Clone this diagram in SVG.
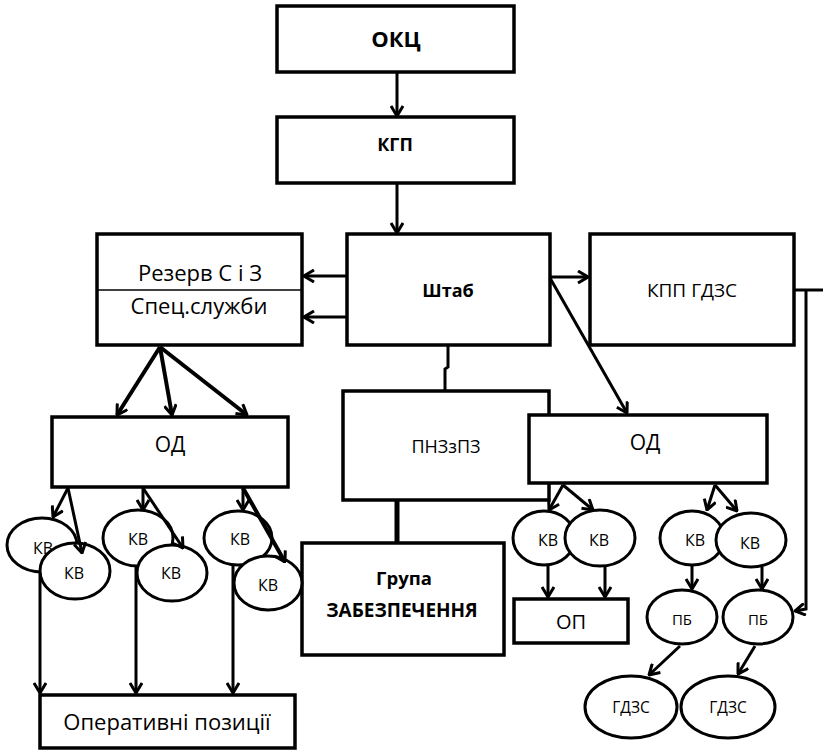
<svg xmlns="http://www.w3.org/2000/svg" width="823" height="751" viewBox="0 0 823 751">
<defs>
<style>
.box{fill:#fff;stroke:#000;stroke-width:3.5}
.ell{fill:#fff;stroke:#000;stroke-width:3}
.t{font-family:"Open Sans","Liberation Sans",sans-serif;fill:#000;text-anchor:middle;dominant-baseline:central}
.b{font-weight:bold}
.c{fill:none;stroke:#000;stroke-width:3}
.ck{fill:none;stroke:#000;stroke-width:4}
</style>
<marker id="ah" markerUnits="userSpaceOnUse" viewBox="0 0 12 14" refX="11" refY="7" markerWidth="12" markerHeight="14" orient="auto">
<path d="M1,1 L11,7 L1,13" fill="none" stroke="#000" stroke-width="3"/>
</marker>
</defs>
<rect width="823" height="751" fill="#fff"/>
<g id="okc"><rect class="box" x="277" y="6" width="237" height="66"/><text class="t b" x="396" y="38" font-size="22">ОКЦ</text></g>
<g id="kgp"><rect class="box" x="277" y="117" width="237" height="66"/><text class="t b" x="395" y="144" font-size="18">КГП</text></g>
<g id="rezerv"><rect class="box" x="97" y="234" width="205" height="111"/><line x1="97" y1="290" x2="302" y2="290" stroke="#000" stroke-width="1.5"/><text class="t" x="200" y="272" font-size="22">Резерв С і З</text><text class="t" x="199" y="305" font-size="22">Спец.служби</text></g>
<g id="shtab"><rect class="box" x="347" y="234" width="203" height="111"/><text class="t b" x="448" y="290" font-size="18">Штаб</text></g>
<g id="kpp"><rect class="box" x="590" y="234" width="204" height="111"/><text class="t" x="692" y="290" font-size="19">КПП ГДЗС</text></g>
<g id="pnz"><rect class="box" x="343" y="391" width="206" height="109"/><text class="t" x="446" y="446" font-size="18">ПНЗзПЗ</text></g>
<g id="od-right"><rect class="box" x="529" y="415" width="238" height="68"/><text class="t" x="645" y="442" font-size="21">ОД</text></g>
<g id="od-left"><rect class="box" x="52" y="417" width="236" height="70"/><text class="t" x="170" y="444" font-size="21">ОД</text></g>
<g id="grupa"><rect class="box" x="302" y="543" width="202" height="112"/><text class="t b" x="404" y="577" font-size="18.5">Група</text><text class="t b" x="402" y="610" font-size="19">ЗАБЕЗПЕЧЕННЯ</text></g>
<g id="kv1"><ellipse class="ell" cx="42" cy="545" rx="35" ry="27"/><text class="t" x="43" y="548" font-size="16">КВ</text></g>
<g id="kv2"><ellipse class="ell" cx="75" cy="571" rx="35" ry="28"/><text class="t" x="74" y="573" font-size="16">КВ</text></g>
<g id="kv3"><ellipse class="ell" cx="138" cy="538" rx="35" ry="28"/><text class="t" x="138" y="539" font-size="16">КВ</text></g>
<g id="kv4"><ellipse class="ell" cx="172" cy="573" rx="35" ry="28"/><text class="t" x="171" y="573" font-size="16">КВ</text></g>
<g id="kv5"><ellipse class="ell" cx="238" cy="538" rx="34" ry="27"/><text class="t" x="240" y="539" font-size="16">КВ</text></g>
<g id="kv6"><ellipse class="ell" cx="268" cy="583" rx="34" ry="27"/><text class="t" x="268" y="585" font-size="16">КВ</text></g>
<g id="kv7"><ellipse class="ell" cx="544" cy="538" rx="31" ry="27"/><text class="t" x="548" y="540" font-size="16">КВ</text></g>
<g id="kv8"><ellipse class="ell" cx="600" cy="538" rx="35" ry="28"/><text class="t" x="599" y="540" font-size="16">КВ</text></g>
<g id="kv9"><ellipse class="ell" cx="692" cy="538" rx="32" ry="27"/><text class="t" x="695" y="540" font-size="16">КВ</text></g>
<g id="kv10"><ellipse class="ell" cx="751" cy="540" rx="35" ry="27"/><text class="t" x="750" y="543" font-size="16">КВ</text></g>
<g id="op"><rect class="box" x="514" y="599" width="114" height="44"/><text class="t" x="571" y="621" font-size="20">ОП</text></g>
<g id="pb1"><ellipse class="ell" cx="682" cy="617" rx="35" ry="27"/><text class="t" x="682" y="619" font-size="15">ПБ</text></g>
<g id="pb2"><ellipse class="ell" cx="758" cy="617" rx="35" ry="27"/><text class="t" x="758" y="619" font-size="15">ПБ</text></g>
<g id="gdzs1"><ellipse class="ell" cx="631" cy="707" rx="46" ry="31"/><text class="t" x="631" y="707" font-size="15.5">ГДЗС</text></g>
<g id="gdzs2"><ellipse class="ell" cx="728" cy="707" rx="47" ry="31"/><text class="t" x="728" y="707" font-size="15.5">ГДЗС</text></g>
<g id="oper"><rect class="box" x="40" y="695" width="255" height="53"/><text class="t" x="167" y="721" font-size="22">Оперативні позиції</text></g>
<g id="connectors">
<line class="c" x1="397" y1="72" x2="397" y2="116" marker-end="url(#ah)"/>
<line class="c" x1="397" y1="183" x2="397" y2="233" marker-end="url(#ah)"/>
<line class="c" x1="347" y1="276" x2="304" y2="276" marker-end="url(#ah)"/>
<line class="c" x1="347" y1="317" x2="304" y2="317" marker-end="url(#ah)"/>
<line class="c" x1="550" y1="277" x2="588" y2="277" marker-end="url(#ah)"/>
<line class="c" x1="550" y1="278" x2="627" y2="413" marker-end="url(#ah)"/>
<polyline class="c" points="448,345 448,367 445,369 445,391"/>
<line x1="397" y1="500" x2="397" y2="543" stroke="#000" stroke-width="5"/>
<line class="ck" x1="160" y1="347" x2="117" y2="415" marker-end="url(#ah)"/>
<line class="ck" x1="160" y1="347" x2="172" y2="415" marker-end="url(#ah)"/>
<line class="ck" x1="160" y1="347" x2="247" y2="415" marker-end="url(#ah)"/>
<line class="c" x1="68" y1="488" x2="53" y2="517" marker-end="url(#ah)"/>
<line class="c" x1="68" y1="488" x2="82" y2="553" marker-end="url(#ah)"/>
<line class="c" x1="143" y1="488" x2="143" y2="510" marker-end="url(#ah)"/>
<line class="c" x1="143" y1="488" x2="183" y2="548" marker-end="url(#ah)"/>
<line class="c" x1="243" y1="488" x2="243" y2="510" marker-end="url(#ah)"/>
<line class="ck" x1="243" y1="488" x2="285" y2="562" marker-end="url(#ah)"/>
<line class="c" x1="40" y1="573" x2="40" y2="693" marker-end="url(#ah)"/>
<line class="c" x1="136" y1="565" x2="136" y2="693" marker-end="url(#ah)"/>
<line class="c" x1="233" y1="565" x2="233" y2="693" marker-end="url(#ah)"/>
<line class="c" x1="563" y1="485" x2="549" y2="510" marker-end="url(#ah)"/>
<line class="c" x1="563" y1="485" x2="593" y2="510" marker-end="url(#ah)"/>
<line class="c" x1="548" y1="565" x2="548" y2="597" marker-end="url(#ah)"/>
<line class="c" x1="605" y1="567" x2="605" y2="597" marker-end="url(#ah)"/>
<line class="c" x1="715" y1="485" x2="707" y2="510" marker-end="url(#ah)"/>
<line class="c" x1="715" y1="485" x2="737" y2="511" marker-end="url(#ah)"/>
<line class="c" x1="692" y1="565" x2="692" y2="589" marker-end="url(#ah)"/>
<line class="c" x1="762" y1="567" x2="762" y2="589" marker-end="url(#ah)"/>
<line class="c" x1="680" y1="646" x2="649" y2="675" marker-end="url(#ah)"/>
<line class="c" x1="755" y1="646" x2="738" y2="674" marker-end="url(#ah)"/>
<line class="c" x1="794" y1="290" x2="823" y2="290"/>
<polyline class="c" points="806,290 806,609 795,611" marker-end="url(#ah)"/>
</g>
</svg>
